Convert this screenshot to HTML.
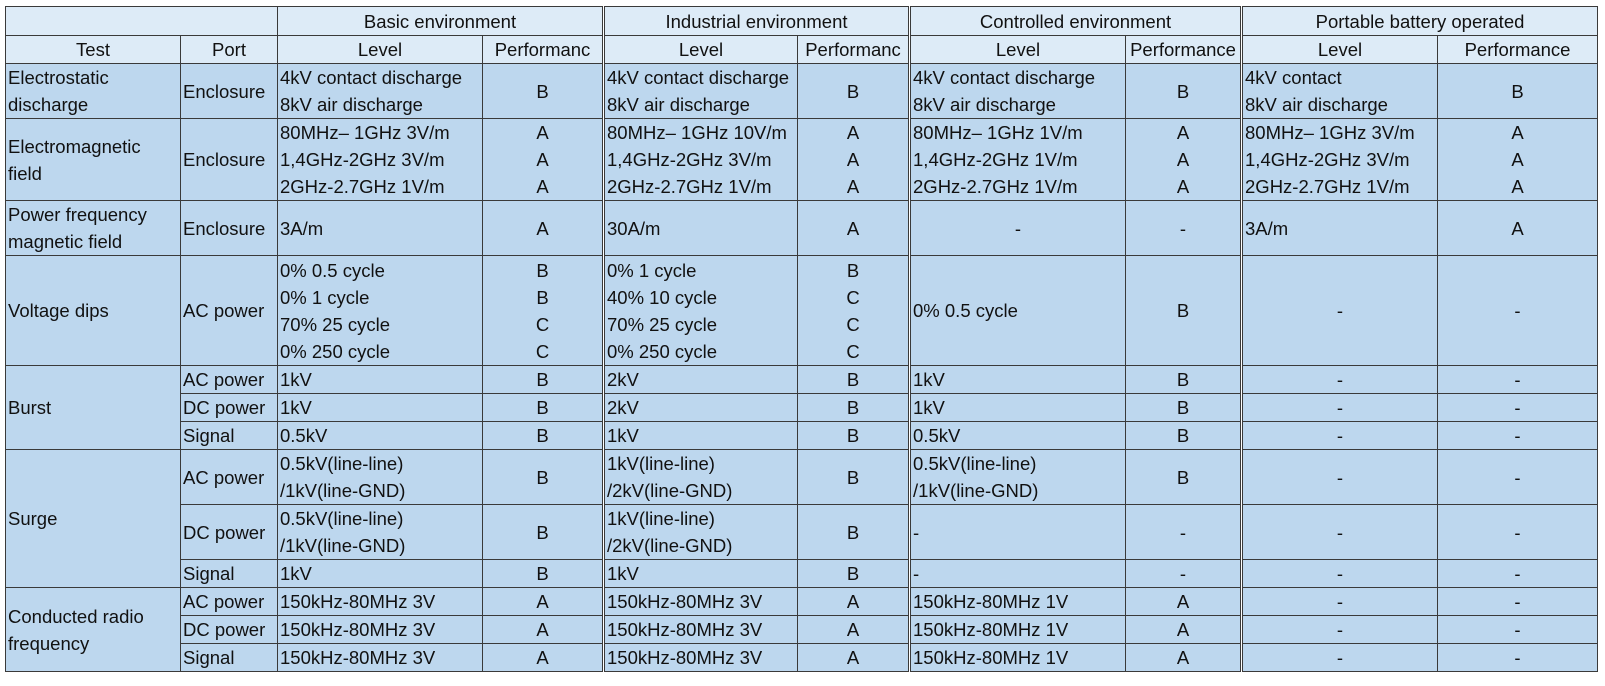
<!DOCTYPE html>
<html><head><meta charset="utf-8"><style>
html,body{margin:0;padding:0;background:#fff;width:1605px;height:686px;overflow:hidden}
table{position:absolute;left:5px;top:6px;width:1592px;border-collapse:collapse;table-layout:fixed;font-family:"Liberation Sans",Arial,sans-serif;font-size:18.5px;color:#111}
td{border:1px solid #3a3a3a;padding:0 2px;line-height:27px;white-space:nowrap;overflow:hidden;background:#BDD7EE;vertical-align:middle}
tr.h td{background:#DDEBF7;text-align:center}
.c{text-align:center}
.d{border-left:3px double #3a3a3a}
</style></head><body>
<table>
<colgroup><col style="width:175px"><col style="width:97px"><col style="width:205px"><col style="width:121px"><col style="width:194px"><col style="width:112px"><col style="width:216px"><col style="width:116px"><col style="width:196px"><col style="width:160px"></colgroup>
<tr class="h" style="height:29px"><td colspan="2"></td><td colspan="2">Basic environment</td><td colspan="2" class="d">Industrial environment</td><td colspan="2" class="d">Controlled environment</td><td colspan="2" class="d">Portable battery operated</td></tr>
<tr class="h" style="height:27px"><td>Test</td><td>Port</td><td>Level</td><td>Performanc</td><td class="d">Level</td><td>Performanc</td><td class="d">Level</td><td>Performance</td><td class="d">Level</td><td>Performance</td></tr>
<tr style="height:55px"><td>Electrostatic<br>discharge</td><td>Enclosure</td><td>4kV contact discharge<br>8kV air discharge</td><td class="c">B</td><td class="d">4kV contact discharge<br>8kV air discharge</td><td class="c">B</td><td class="d">4kV contact discharge<br>8kV air discharge</td><td class="c">B</td><td class="d">4kV contact<br>8kV air discharge</td><td class="c">B</td></tr>
<tr style="height:82px"><td>Electromagnetic<br>field</td><td>Enclosure</td><td>80MHz– 1GHz 3V/m<br>1,4GHz-2GHz 3V/m<br>2GHz-2.7GHz 1V/m</td><td class="c">A<br>A<br>A</td><td class="d">80MHz– 1GHz 10V/m<br>1,4GHz-2GHz 3V/m<br>2GHz-2.7GHz 1V/m</td><td class="c">A<br>A<br>A</td><td class="d">80MHz– 1GHz 1V/m<br>1,4GHz-2GHz 1V/m<br>2GHz-2.7GHz 1V/m</td><td class="c">A<br>A<br>A</td><td class="d">80MHz– 1GHz 3V/m<br>1,4GHz-2GHz 3V/m<br>2GHz-2.7GHz 1V/m</td><td class="c">A<br>A<br>A</td></tr>
<tr style="height:54px"><td>Power frequency<br>magnetic field</td><td>Enclosure</td><td>3A/m</td><td class="c">A</td><td class="d">30A/m</td><td class="c">A</td><td class="d c">-</td><td class="c">-</td><td class="d">3A/m</td><td class="c">A</td></tr>
<tr style="height:110px"><td>Voltage dips</td><td>AC power</td><td>0% 0.5 cycle<br>0% 1 cycle<br>70% 25 cycle<br>0% 250 cycle</td><td class="c">B<br>B<br>C<br>C</td><td class="d">0% 1 cycle<br>40% 10 cycle<br>70% 25 cycle<br>0% 250 cycle</td><td class="c">B<br>C<br>C<br>C</td><td class="d">0% 0.5 cycle</td><td class="c">B</td><td class="d c">-</td><td class="c">-</td></tr>
<tr style="height:28px"><td rowspan="3">Burst</td><td>AC power</td><td>1kV</td><td class="c">B</td><td class="d">2kV</td><td class="c">B</td><td class="d">1kV</td><td class="c">B</td><td class="d c">-</td><td class="c">-</td></tr>
<tr style="height:27px"><td>DC power</td><td>1kV</td><td class="c">B</td><td class="d">2kV</td><td class="c">B</td><td class="d">1kV</td><td class="c">B</td><td class="d c">-</td><td class="c">-</td></tr>
<tr style="height:28px"><td>Signal</td><td>0.5kV</td><td class="c">B</td><td class="d">1kV</td><td class="c">B</td><td class="d">0.5kV</td><td class="c">B</td><td class="d c">-</td><td class="c">-</td></tr>
<tr style="height:55px"><td rowspan="3">Surge</td><td>AC power</td><td>0.5kV(line-line)<br>/1kV(line-GND)</td><td class="c">B</td><td class="d">1kV(line-line)<br>/2kV(line-GND)</td><td class="c">B</td><td class="d">0.5kV(line-line)<br>/1kV(line-GND)</td><td class="c">B</td><td class="d c">-</td><td class="c">-</td></tr>
<tr style="height:55px"><td>DC power</td><td>0.5kV(line-line)<br>/1kV(line-GND)</td><td class="c">B</td><td class="d">1kV(line-line)<br>/2kV(line-GND)</td><td class="c">B</td><td class="d">-</td><td class="c">-</td><td class="d c">-</td><td class="c">-</td></tr>
<tr style="height:27px"><td>Signal</td><td>1kV</td><td class="c">B</td><td class="d">1kV</td><td class="c">B</td><td class="d">-</td><td class="c">-</td><td class="d c">-</td><td class="c">-</td></tr>
<tr style="height:27px"><td rowspan="3">Conducted radio<br>frequency</td><td>AC power</td><td>150kHz-80MHz 3V</td><td class="c">A</td><td class="d">150kHz-80MHz 3V</td><td class="c">A</td><td class="d">150kHz-80MHz 1V</td><td class="c">A</td><td class="d c">-</td><td class="c">-</td></tr>
<tr style="height:27px"><td>DC power</td><td>150kHz-80MHz 3V</td><td class="c">A</td><td class="d">150kHz-80MHz 3V</td><td class="c">A</td><td class="d">150kHz-80MHz 1V</td><td class="c">A</td><td class="d c">-</td><td class="c">-</td></tr>
<tr style="height:27px"><td>Signal</td><td>150kHz-80MHz 3V</td><td class="c">A</td><td class="d">150kHz-80MHz 3V</td><td class="c">A</td><td class="d">150kHz-80MHz 1V</td><td class="c">A</td><td class="d c">-</td><td class="c">-</td></tr>
</table>
</body></html>
